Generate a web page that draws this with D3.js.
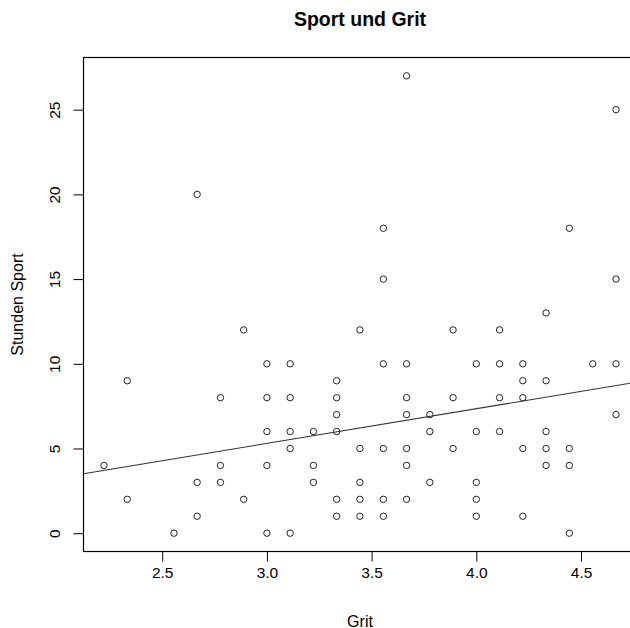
<!DOCTYPE html>
<html>
<head>
<meta charset="utf-8">
<script src="https://cdn.jsdelivr.net/npm/d3@7"></script>
<style>
  html, body { margin: 0; padding: 0; background: #fff; }
  svg { display: block; }
  text { font-family: "Liberation Sans", Arial, sans-serif; fill: #000; }
</style>
</head>
<body>
<svg id="chart" width="630" height="628"></svg>
<script>
// Data (Grit score vs. hours of sport)
const grit = [
  2.222,
  2.333, 2.333,
  2.556,
  2.667, 2.667, 2.667,
  2.778, 2.778, 2.778,
  2.889, 2.889,
  3.000, 3.000, 3.000, 3.000, 3.000,
  3.111, 3.111, 3.111, 3.111, 3.111,
  3.222, 3.222, 3.222,
  3.333, 3.333, 3.333, 3.333, 3.333, 3.333,
  3.444, 3.444, 3.444, 3.444, 3.444,
  3.556, 3.556, 3.556, 3.556, 3.556, 3.556,
  3.667, 3.667, 3.667, 3.667, 3.667, 3.667, 3.667,
  3.778, 3.778, 3.778,
  3.889, 3.889, 3.889,
  4.000, 4.000, 4.000, 4.000, 4.000,
  4.111, 4.111, 4.111, 4.111,
  4.222, 4.222, 4.222, 4.222, 4.222,
  4.333, 4.333, 4.333, 4.333, 4.333,
  4.444, 4.444, 4.444, 4.444,
  4.556,
  4.667, 4.667, 4.667, 4.667
];
const stunden = [
  4,
  9, 2,
  0,
  20, 3, 1,
  8, 4, 3,
  12, 2,
  10, 8, 6, 4, 0,
  10, 8, 6, 5, 0,
  6, 4, 3,
  9, 8, 7, 6, 2, 1,
  12, 5, 3, 2, 1,
  18, 15, 10, 5, 2, 1,
  27, 10, 8, 7, 5, 4, 2,
  7, 6, 3,
  12, 8, 5,
  10, 6, 3, 2, 1,
  12, 10, 8, 6,
  10, 9, 8, 5, 1,
  13, 9, 6, 5, 4,
  18, 5, 4, 0,
  10,
  25, 15, 10, 7
];
// Fitted line (abline of lm): [intercept, slope]
const lmCoef = [-0.85, 2.05];
const xTicks = [2.5, 3.0, 3.5, 4.0, 4.5];
const yTicks = [0, 5, 10, 15, 20, 25];
const title = "Sport und Grit";
const xLabel = "Grit";
const yLabel = "Stunden Sport";

const svg = d3.select("#chart");
const pLeft = 83.5, pRight = 636.5, pTop = 57.5, pBottom = 551.5;

// R-style 4% padded domains
const xExt = d3.extent(grit), yExt = d3.extent(stunden);
const xPad = (xExt[1] - xExt[0]) * 0.04, yPad = (yExt[1] - yExt[0]) * 0.04;
const x = d3.scaleLinear().domain([xExt[0] - xPad, xExt[1] + xPad]).range([pLeft, pRight]);
const y = d3.scaleLinear().domain([yExt[0] - yPad, yExt[1] + yPad]).range([pBottom, pTop]);

const [intercept, slope] = lmCoef;

svg.append("defs").append("clipPath").attr("id", "plotclip")
  .append("rect").attr("x", pLeft).attr("y", pTop).attr("width", pRight - pLeft).attr("height", pBottom - pTop);

// Points
svg.append("g").selectAll("circle").data(grit).join("circle")
  .attr("cx", d => x(d))
  .attr("cy", (d, i) => y(stunden[i]))
  .attr("r", 3.2)
  .attr("fill", "none")
  .attr("stroke", "#222")
  .attr("stroke-width", 1);

// Regression line
const xd = x.domain();
svg.append("line")
  .attr("clip-path", "url(#plotclip)")
  .attr("x1", x(xd[0])).attr("y1", y(intercept + slope * xd[0]))
  .attr("x2", x(xd[1])).attr("y2", y(intercept + slope * xd[1]))
  .attr("stroke", "#333").attr("stroke-width", 1.1);

// Frame
svg.append("rect")
  .attr("x", pLeft).attr("y", pTop).attr("width", pRight - pLeft).attr("height", pBottom - pTop)
  .attr("fill", "none").attr("stroke", "#000").attr("stroke-width", 1.2);

// X axis
const xAxis = svg.append("g").attr("transform", `translate(0,${pBottom})`)
  .call(d3.axisBottom(x).tickValues(xTicks).tickFormat(d3.format(".1f")).tickSize(10).tickPadding(5));
xAxis.select(".domain").remove();
xAxis.selectAll("line").attr("stroke", "#000");
xAxis.selectAll("text").attr("font-size", "15.5px").attr("font-family", "Liberation Sans, Arial, sans-serif").attr("fill", "#000");

// Y axis
const yAxis = svg.append("g").attr("transform", `translate(${pLeft},0)`)
  .call(d3.axisLeft(y).tickValues(yTicks).tickSize(10));
yAxis.select(".domain").remove();
yAxis.selectAll("line").attr("stroke", "#000");
yAxis.selectAll("text")
  .attr("font-size", "15.5px").attr("font-family", "Liberation Sans, Arial, sans-serif").attr("fill", "#000")
  .attr("x", null).attr("dy", null)
  .attr("text-anchor", "middle")
  .attr("transform", "translate(-23.5,0) rotate(-90)");

// Title and labels
svg.append("text").attr("x", (pLeft + pRight) / 2).attr("y", 26.3)
  .attr("text-anchor", "middle").attr("font-weight", "bold").attr("font-size", "19.5px").text(title);
svg.append("text").attr("x", (pLeft + pRight) / 2).attr("y", 626.5)
  .attr("text-anchor", "middle").attr("font-size", "16px").text(xLabel);
svg.append("text").attr("transform", `translate(22.5,${(pTop + pBottom) / 2}) rotate(-90)`)
  .attr("text-anchor", "middle").attr("font-size", "16px").text(yLabel);
</script>
</body>
</html>
